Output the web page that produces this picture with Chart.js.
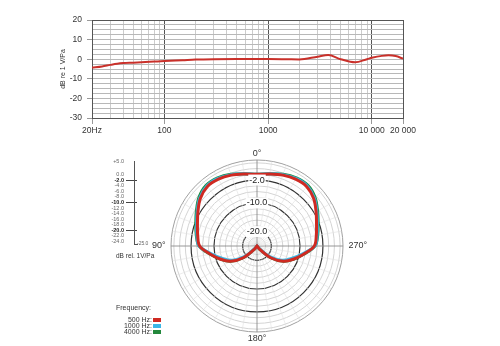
<!DOCTYPE html>
<html>
<head>
<meta charset="utf-8">
<script src="https://cdn.jsdelivr.net/npm/chart.js@4/dist/chart.umd.min.js"></script>
<style>
  body { margin: 0; width: 500px; height: 346px; background: #fff; position: relative; overflow: hidden;
         font-family: "Liberation Sans", Arial, sans-serif; color: #333; }
  canvas { position: absolute; }
  .txt { position: absolute; font-size: 6.5px; white-space: nowrap; line-height: 1; }
  .row { position: absolute; left: 100px; width: 52px; text-align: right; font-size: 7px; line-height: 1; }
  .swatch { position: absolute; left: 153px; width: 8px; height: 4px; }
</style>
</head>
<body>
<canvas id="freqChart" width="430" height="145" style="left:0;top:0"></canvas>
<canvas id="polarChart" width="260" height="203" style="left:127px;top:145px"></canvas>
<canvas id="polarScale" width="90" height="110" style="left:88px;top:150px"></canvas>
<div class="txt" style="left:116px;top:253px">dB rel. 1V/Pa</div>
<div id="legend"></div>

<script>
Chart.defaults.font.family = '"Liberation Sans", Arial, sans-serif';

// ================= DATA =================
// frequency response (Hz / dB re 1 V/Pa)
const freqHz = [20, 25, 30, 35, 40, 50, 60, 80, 100, 150, 200, 300, 500, 700, 1000, 1500, 2000, 3000, 3800, 5000, 6900, 9000, 10000, 12500, 14500, 17000, 20000];
const responseDb = [-4.3, -3.7, -2.9, -2.3, -2.0, -1.8, -1.6, -1.2, -0.9, -0.5, -0.2, 0.0, 0.1, 0.1, 0.1, 0.0, -0.1, 1.3, 2.1, 0.0, -1.6, 0.0, 0.7, 1.7, 2.0, 1.6, 0.3];

// grid / tick labels of the response chart
const freqGrid = [20, 30, 40, 50, 60, 70, 80, 90, 100, 200, 300, 400, 500, 600, 700, 800, 900,
                  1000, 2000, 3000, 4000, 5000, 6000, 7000, 8000, 9000, 10000, 20000];
const freqMajor = [20, 100, 1000, 10000, 20000];
const freqLabels = ['20Hz', '100', '1000', '10 000', '20 000'];
const dbGrid = [-30, -27.5, -25, -22.5, -20, -17.5, -15, -12.5, -10, -7.5, -5, -2.5, 0, 2.5, 5, 7.5, 10, 12.5, 15, 17.5, 20];

// polar pattern, angles in clockwise drawing order (0 top, 270 right, 180 bottom, 90 left)
const polarAngles = [0, 350, 340, 330, 320, 310, 300, 290, 280, 270, 260, 250, 240, 230, 220, 210, 200, 190,
                     180, 170, 160, 150, 140, 130, 120, 110, 100, 90, 80, 70, 60, 50, 40, 30, 20, 10];
const db500 = [0.0, 0.5, 1.3, 1.9, 2.0, 0.8, -1.2, -2.9, -4.0, -5.0, -8.5, -11.5, -14.3, -18.5, -23.5, -25, -25, -25,
               -25, -25, -25, -25, -23.5, -18.5, -14.3, -11.5, -8.5, -5.0, -4.0, -2.9, -1.2, 0.8, 2.0, 1.9, 1.3, 0.5];
const db1000 = [0.0, 0.6, 1.5, 2.2, 2.3, 1.1, -0.9, -2.6, -3.7, -4.8, -9.0, -12.2, -15.0, -19.2, -24.0, -25, -25, -25,
                -25, -25, -25, -25, -24.0, -19.2, -15.0, -12.2, -9.0, -4.8, -3.7, -2.6, -0.9, 1.1, 2.3, 2.2, 1.5, 0.6];
const db4000 = [0.0, 0.6, 1.6, 2.4, 2.6, 1.4, -0.6, -2.3, -3.5, -4.8, -8.5, -11.5, -14.3, -18.5, -23.5, -25, -25, -25,
                -25, -25, -25, -25, -23.5, -18.5, -14.3, -11.5, -8.5, -4.8, -3.5, -2.3, -0.6, 1.4, 2.6, 2.4, 1.6, 0.6];

const ringDb = [-25, -24, -22, -20, -18, -16, -14, -12, -10, -8, -6, -4, -2, 0, 2, 4, 5];
const markedRings = [-2, -10, -20];
const sideScaleDb = [5, 0, -2, -4, -6, -8, -10, -12, -14, -16, -18, -20, -22, -24];

const seriesNames = ['500 Hz:', '1000 Hz:', '4000 Hz:'];
const seriesColors = ['#cf2a22', '#3ab6e6', '#23883c'];

// tick value from a scriptable context (may be missing during layout)
const tv = c => (c && c.tick ? c.tick.value : null);
const isMarked = c => markedRings.includes(tv(c));

// ================= FREQUENCY RESPONSE =================
new Chart(document.getElementById('freqChart'), {
  type: 'scatter',
  data: {
    datasets: [{
      data: freqHz.map((f, i) => ({ x: f, y: responseDb[i] })),
      showLine: true,
      borderColor: '#c9302a',
      borderWidth: 2,
      pointRadius: 0,
      cubicInterpolationMode: 'monotone'
    }]
  },
  options: {
    responsive: false,
    animation: false,
    layout: { padding: { left: 52, right: 27, top: 20, bottom: 0 } },
    plugins: { legend: { display: false }, tooltip: { enabled: false } },
    scales: {
      x: {
        type: 'logarithmic', min: 20, max: 20000,
        afterBuildTicks: s => { s.ticks = freqGrid.map(v => ({ value: v })); },
        afterFit: s => { s.height = 27; },
        ticks: {
          autoSkip: false, maxRotation: 0, padding: 2,
          font: { size: 8.5 }, color: '#333',
          callback: v => { const i = freqMajor.indexOf(v); return i >= 0 ? freqLabels[i] : ''; }
        },
        grid: {
          tickLength: 6,
          color: c => freqMajor.includes(tv(c)) ? '#555' : '#cccccc',
          tickColor: c => freqMajor.includes(tv(c)) ? '#999' : 'rgba(0,0,0,0)',
          lineWidth: 1
        },
        border: { color: '#555' }
      },
      y: {
        min: -30, max: 20,
        afterBuildTicks: s => { s.ticks = dbGrid.map(v => ({ value: v })); },
        afterFit: s => { s.width = 40; },
        title: { display: true, text: 'dB re 1 V/Pa', font: { size: 7 }, color: '#333', padding: { top: 7, bottom: 0 } },
        ticks: {
          autoSkip: false, padding: 5, font: { size: 8.5 }, color: '#333',
          callback: v => (v % 10 === 0 ? v : '')
        },
        grid: {
          tickLength: 5,
          color: c => (tv(c) === 20 || tv(c) === -30) ? '#555' : '#b8b8b8',
          tickColor: c => tv(c) !== null && tv(c) % 10 === 0 ? '#999' : 'rgba(0,0,0,0)'
        },
        border: { color: '#555' }
      }
    }
  }
});

// ================= POLAR PATTERN =================
new Chart(document.getElementById('polarChart'), {
  type: 'radar',
  data: {
    labels: polarAngles.map(a => (a % 90 === 0 ? a + '°' : '')),
    datasets: [db500, db1000, db4000].map((d, i) => ({
      label: seriesNames[i],
      data: d,
      borderColor: seriesColors[i],
      borderWidth: 3,
      fill: false,
      pointRadius: 0,
      tension: 0.35
    }))
  },
  options: {
    responsive: false,
    animation: false,
    plugins: { legend: { display: false }, tooltip: { enabled: false } },
    scales: {
      r: {
        min: -25, max: 5,
        afterBuildTicks: s => { s.ticks = ringDb.map(v => ({ value: v })); },
        grid: {
          circular: true,
          color: c => isMarked(c) ? '#333' : (tv(c) === 5 ? '#a0a0a0' : '#d4d4d4'),
          lineWidth: c => isMarked(c) ? 1.2 : 1
        },
        angleLines: {
          color: c => (c && c.index % 9 === 0 ? '#8c8c8c' : '#e0e0e0'),
          lineWidth: c => (c && c.index % 9 === 0 ? 0.9 : 0.6)
        },
        pointLabels: {
          font: { size: 9 }, color: '#333',
          padding: c => (c && c.index % 18 === 0 ? -4 : 0)
        },
        ticks: {
          autoSkip: false,
          z: 1,
          font: { size: 9 }, color: '#222',
          showLabelBackdrop: true,
          backdropPadding: 1,
          backdropColor: c => isMarked(c) ? '#fff' : 'rgba(0,0,0,0)',
          callback: v => (markedRings.includes(v) ? v.toFixed(1) : '')
        }
      }
    }
  }
});

// ================= POLAR SIDE SCALE =================
new Chart(document.getElementById('polarScale'), {
  type: 'scatter',
  data: { datasets: [] },
  options: {
    responsive: false,
    animation: false,
    layout: { padding: { left: 0, right: 23, top: 11, bottom: 16 } },
    plugins: { legend: { display: false }, tooltip: { enabled: false } },
    scales: {
      x: {
        min: 0, max: 1,
        afterFit: s => { s.height = 0; },
        ticks: { display: false },
        grid: { display: false },
        border: { color: '#555' }
      },
      y: {
        min: -25, max: 5,
        afterBuildTicks: s => { s.ticks = sideScaleDb.map(v => ({ value: v })); },
        afterFit: s => { s.width = 46; },
        ticks: {
          autoSkip: false, padding: 2,
          font: c => ({ size: 5.5, weight: isMarked(c) ? 'bold' : 'normal' }),
          color: c => isMarked(c) ? '#222' : '#666',
          callback: v => (v > 0 ? '+' : '') + v.toFixed(1)
        },
        grid: {
          tickLength: 8,
          color: c => isMarked(c) ? '#444' : 'rgba(0,0,0,0)',
          tickColor: c => isMarked(c) ? '#444' : 'rgba(0,0,0,0)'
        },
        border: { color: '#555' }
      },
      y2: {
        position: 'right', min: -25, max: 5,
        afterBuildTicks: s => { s.ticks = [{ value: -25 }]; },
        afterFit: s => { s.width = 18; },
        ticks: { padding: 0, font: { size: 5 }, color: '#666', callback: v => v.toFixed(1) },
        grid: { display: false, drawTicks: false, tickLength: 0 },
        border: { display: false }
      }
    }
  }
});

// ================= LEGEND =================
const legend = document.getElementById('legend');
legend.innerHTML = '<div class="txt" style="left:116px;top:304px;font-size:7px">Frequency:</div>';
const rowTops = [316, 322, 328];
seriesNames.forEach((name, i) => {
  legend.innerHTML += `<div class="row" style="top:${rowTops[i]}px">${name}</div>` +
    `<div class="swatch" style="top:${rowTops[i] + 1.5}px;background:${seriesColors[i]}"></div>`;
});
</script>
</body>
</html>
